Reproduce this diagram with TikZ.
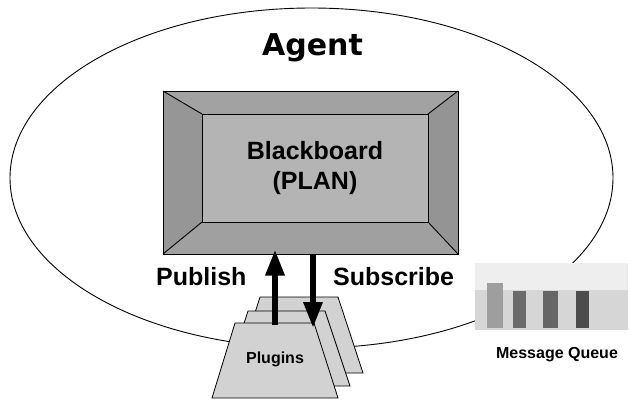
\documentclass[tikz,border=0pt]{standalone}
\usepackage{fontspec}
\setmainfont{Liberation Sans}
\newfontfamily\agentfont{DejaVu Sans}
\usetikzlibrary{arrows.meta}

\definecolor{bevelT}{HTML}{A2A2A2}
\definecolor{bevelL}{HTML}{969696}
\definecolor{bevelB}{HTML}{A0A0A0}
\definecolor{bevelR}{HTML}{949494}
\definecolor{boardface}{HTML}{B4B4B4}
\definecolor{pluginfill}{HTML}{D2D2D2}
\definecolor{queuebg}{HTML}{EEEEEE}
\definecolor{queuelow}{HTML}{D6D6D6}

\tikzset{
  label/.style={font=\bfseries\fontsize{25}{30}\selectfont, inner sep=0pt},
  smalllabel/.style={font=\bfseries\fontsize{16}{19}\selectfont, inner sep=0pt},
  bevel/.style={draw=black, line width=0.9pt, line join=miter},
  plugin/.style={draw=black, line width=0.8pt, fill=pluginfill, line join=miter},
  bigarrow/.style={line width=6pt, -{Triangle[width=18pt,length=26pt]}},
  qbar/.style={draw=none, inner sep=0pt}
}

\begin{document}
\begin{tikzpicture}[x=1pt, y=-1pt]
\useasboundingbox (0,0) rectangle (629,400);

% agent boundary
\draw[line width=0.9pt] (311.5,178) ellipse [x radius=301.5, y radius=170];
\node[font=\agentfont\bfseries\fontsize{30}{36}\selectfont, anchor=base, inner sep=0pt]
  (agent) at (312.5,55) {Agent};

% blackboard: outer frame with bevelled sides
\node[draw=black, line width=1pt, minimum width=295pt, minimum height=163pt, inner sep=0pt]
  (board) at (310.5,172.5) {};
\fill[bevelT] (163,91) -- (458,91) -- (428,114) -- (202,114) -- cycle;
\fill[bevelL] (163,91) -- (202,114) -- (202,222) -- (163,254) -- cycle;
\fill[bevelB] (163,254) -- (458,254) -- (428,222) -- (202,222) -- cycle;
\fill[bevelR] (458,91) -- (458,254) -- (428,222) -- (428,114) -- cycle;
\draw[bevel] (163,91) -- (202,114) (163,254) -- (202,222)
             (458,91) -- (428,114) (458,254) -- (428,222);
\draw[line width=1pt] (163,91) rectangle (458,254);
\node[draw=black, line width=0.9pt, fill=boardface, minimum width=226pt, minimum height=108pt,
      inner sep=0pt, align=center, font=\bfseries\fontsize{25}{30}\selectfont]
  (bb) at (315,168) {Blackboard\\(PLAN)};

% plugin sheets, back to front
\draw[plugin] (260,297) -- (338,297) -- (363,373) -- (236,373) -- cycle;
\draw[plugin] (248,311) -- (325,311) -- (350,386) -- (224,386) -- cycle;
\draw[plugin] (235,323) -- (314,323) -- (338,398) -- (212,398) -- cycle;
\node[font=\bfseries\fontsize{16}{19}\selectfont, anchor=base, inner sep=0pt]
  (plugins) at (275,363) {Plugins};
\coordinate (pubfoot) at (275,325);
\coordinate (subtip) at (313,328);

% publish / subscribe arrows
\draw[bigarrow, shorten >=-5pt] (pubfoot) -- (pubfoot |- board.south);
\draw[bigarrow] (subtip |- board.south) -- (subtip);
\node[label, anchor=base west] (pub) at (156,285) {Publish};
\node[label, anchor=base west] (sub) at (333,285) {Subscribe};

% message queue
\fill[queuebg] (475,263) rectangle (628,290);
\fill[queuelow] (475,290) rectangle (628,330);
\node[qbar, fill=black!38, minimum width=16pt, minimum height=45pt] (q1) at (495,305.5) {};
\node[qbar, fill=black!58, minimum width=13pt, minimum height=37pt] (q2) at (519.5,309.5) {};
\node[qbar, fill=black!60, minimum width=15pt, minimum height=37pt] (q3) at (550.5,309.5) {};
\node[qbar, fill=black!70, minimum width=13pt, minimum height=37pt] (q4) at (582.5,309.5) {};
\node[smalllabel, anchor=base] (mq) at (557,358) {Message Queue};
\end{tikzpicture}
\end{document}
